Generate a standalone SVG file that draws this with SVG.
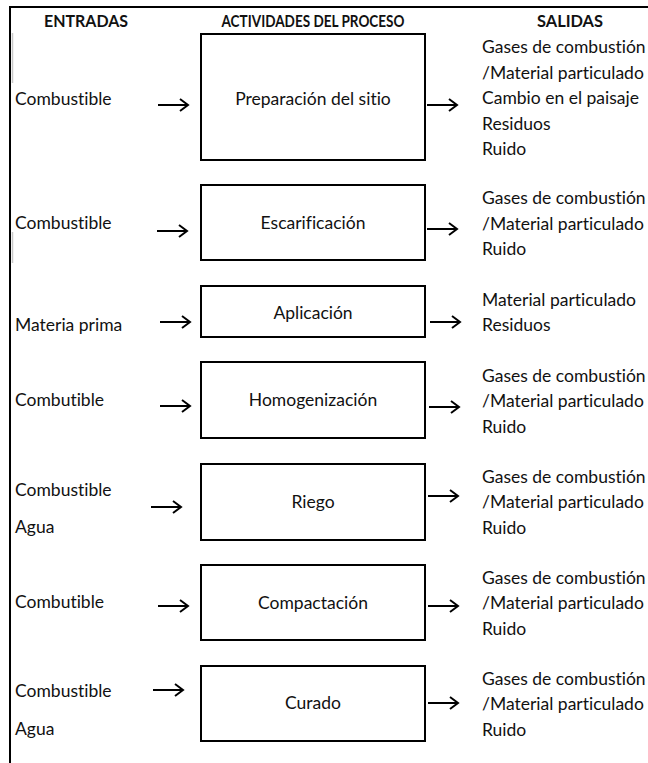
<svg xmlns="http://www.w3.org/2000/svg" width="648" height="763" viewBox="0 0 648 763">
  <style>
    .t { font-family: Lato, "Carlito", "Liberation Sans", sans-serif; font-size: 17.5px; fill: #111; font-variant-ligatures: none; }
    .h { font-family: Lato, "Carlito", "Liberation Sans", sans-serif; font-size: 17px; font-weight: bold; fill: #111; }
    .c { text-anchor: middle; }
    .box { fill: #fff; stroke: #000; stroke-width: 2; }
    .frame { stroke: #000; stroke-width: 2; fill: none; }
    .arr { stroke: #000; stroke-width: 2; fill: none; marker-end: url(#head); }
  </style>
  <defs>
    <marker id="head" markerUnits="userSpaceOnUse" markerWidth="14" markerHeight="14" refX="11" refY="7" orient="auto">
      <polyline points="3,1 11,7 3,13" fill="none" stroke="#000" stroke-width="2"/>
    </marker>
  </defs>

  <rect width="648" height="763" fill="#fff"/>

  <!-- outer frame: top rule and left rule -->
  <g id="frame">
    <line class="frame" x1="10" y1="7" x2="648" y2="7"/>
    <line class="frame" x1="10" y1="6" x2="10" y2="763"/>
    <line x1="12.5" y1="33" x2="12.5" y2="83" stroke="#c8c8c8" stroke-width="1.5"/>
    <line x1="12.5" y1="232" x2="12.5" y2="263" stroke="#c8c8c8" stroke-width="1.5"/>
  </g>

  <!-- column headings -->
  <g id="headers">
    <text class="h c" x="86" y="26.5" textLength="84" lengthAdjust="spacingAndGlyphs">ENTRADAS</text>
    <text class="h c" x="313" y="26.5" textLength="183" lengthAdjust="spacingAndGlyphs">ACTIVIDADES DEL PROCESO</text>
    <text class="h c" x="570" y="26.5" textLength="66" lengthAdjust="spacingAndGlyphs">SALIDAS</text>
  </g>

  <!-- process steps -->
  <g id="step-preparacion">
    <rect class="box" x="201" y="34" width="224" height="126"/>
    <text class="t c" x="313" y="105">Preparación del sitio</text>
  </g>
  <g id="step-escarificacion">
    <rect class="box" x="201" y="185" width="224" height="75"/>
    <text class="t c" x="313" y="229">Escarificación</text>
  </g>
  <g id="step-aplicacion">
    <rect class="box" x="201" y="286" width="224" height="51"/>
    <text class="t c" x="313" y="319">Aplicación</text>
  </g>
  <g id="step-homogenizacion">
    <rect class="box" x="201" y="362" width="224" height="76"/>
    <text class="t c" x="313" y="406">Homogenización</text>
  </g>
  <g id="step-riego">
    <rect class="box" x="201" y="464" width="224" height="76"/>
    <text class="t c" x="313" y="508">Riego</text>
  </g>
  <g id="step-compactacion">
    <rect class="box" x="201" y="565" width="224" height="75"/>
    <text class="t c" x="313" y="609">Compactación</text>
  </g>
  <g id="step-curado">
    <rect class="box" x="201" y="666" width="224" height="75"/>
    <text class="t c" x="313" y="709">Curado</text>
  </g>

  <!-- inputs -->
  <g id="inputs">
    <text class="t" x="15" y="105">Combustible</text>
    <text class="t" x="15" y="229">Combustible</text>
    <text class="t" x="15" y="331">Materia prima</text>
    <text class="t" x="15" y="406">Combutible</text>
    <text class="t" x="15" y="496">Combustible</text>
    <text class="t" x="15" y="533">Agua</text>
    <text class="t" x="15" y="608">Combutible</text>
    <text class="t" x="15" y="697">Combustible</text>
    <text class="t" x="15" y="735">Agua</text>
  </g>

  <!-- outputs -->
  <g id="outputs">
    <text class="t" x="482" y="53">Gases de combustión</text>
    <text class="t" x="482" y="78.5">/Material particulado</text>
    <text class="t" x="482" y="104">Cambio en el paisaje</text>
    <text class="t" x="482" y="129.5">Residuos</text>
    <text class="t" x="482" y="155">Ruido</text>

    <text class="t" x="482" y="204">Gases de combustión</text>
    <text class="t" x="482" y="229.5">/Material particulado</text>
    <text class="t" x="482" y="255">Ruido</text>

    <text class="t" x="482" y="306">Material particulado</text>
    <text class="t" x="482" y="331">Residuos</text>

    <text class="t" x="482" y="382">Gases de combustión</text>
    <text class="t" x="482" y="407">/Material particulado</text>
    <text class="t" x="482" y="433">Ruido</text>

    <text class="t" x="482" y="483">Gases de combustión</text>
    <text class="t" x="482" y="508">/Material particulado</text>
    <text class="t" x="482" y="534">Ruido</text>

    <text class="t" x="482" y="584">Gases de combustión</text>
    <text class="t" x="482" y="609">/Material particulado</text>
    <text class="t" x="482" y="634.5">Ruido</text>

    <text class="t" x="482" y="685">Gases de combustión</text>
    <text class="t" x="482" y="710">/Material particulado</text>
    <text class="t" x="482" y="735.5">Ruido</text>
  </g>

  <!-- flow arrows -->
  <g id="connectors">
    <line class="arr" x1="158" y1="105" x2="188" y2="105"/>
    <line class="arr" x1="427" y1="105" x2="457" y2="105"/>
    <line class="arr" x1="157" y1="231" x2="187" y2="231"/>
    <line class="arr" x1="427" y1="229" x2="457" y2="229"/>
    <line class="arr" x1="160" y1="322" x2="190" y2="322"/>
    <line class="arr" x1="430" y1="322" x2="460" y2="322"/>
    <line class="arr" x1="160" y1="406" x2="190" y2="406"/>
    <line class="arr" x1="429" y1="407" x2="459" y2="407"/>
    <line class="arr" x1="151" y1="507" x2="181" y2="507"/>
    <line class="arr" x1="428" y1="496" x2="458" y2="496"/>
    <line class="arr" x1="158" y1="606" x2="188" y2="606"/>
    <line class="arr" x1="428" y1="606" x2="458" y2="606"/>
    <line class="arr" x1="153" y1="690" x2="183" y2="690"/>
    <line class="arr" x1="428" y1="703" x2="458" y2="703"/>
  </g>
</svg>
